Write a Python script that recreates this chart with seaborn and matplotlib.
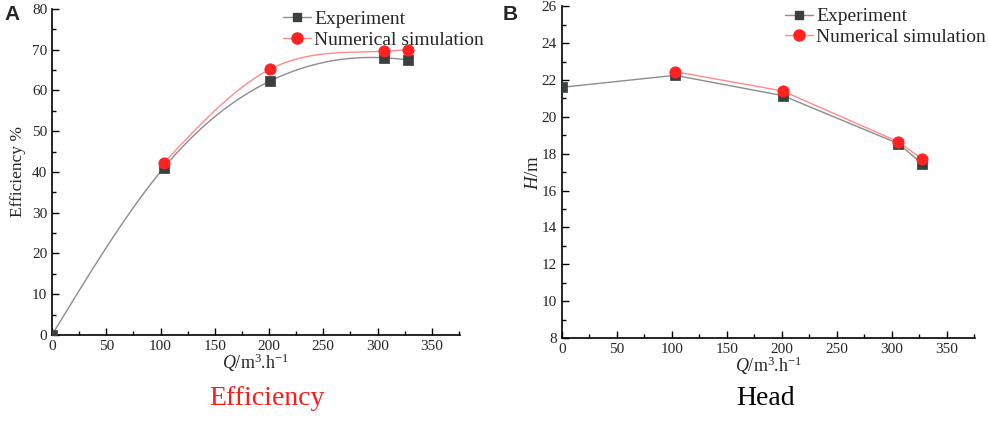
import numpy as np
import pandas as pd
import matplotlib.pyplot as plt
import seaborn as sns
from matplotlib.lines import Line2D
from matplotlib.ticker import MultipleLocator

# Panel A: efficiency
q_exp_a = [0, 103, 201, 306, 328]
eff_exp = [0, 41.0, 62.3, 68.0, 67.5]
q_sim_a = [103, 201, 306, 328]
eff_sim = [42.2, 65.2, 69.6, 70.0]

# Panel B: head
q_exp_b = [0, 103, 201, 306, 328]
head_exp = [21.6, 22.25, 21.15, 18.55, 17.45]
q_sim_b = [103, 201, 306, 328]
head_sim = [22.45, 21.4, 18.65, 17.7]


def natural_spline(x, y, n=200):
    # natural cubic spline, only used to draw the smoothed connecting line
    x = np.asarray(x, float)
    y = np.asarray(y, float)
    k = len(x)
    h = np.diff(x)
    A = np.zeros((k, k))
    b = np.zeros(k)
    A[0, 0] = A[-1, -1] = 1
    for i in range(1, k - 1):
        A[i, i - 1] = h[i - 1]
        A[i, i] = 2 * (h[i - 1] + h[i])
        A[i, i + 1] = h[i]
        b[i] = 6 * ((y[i + 1] - y[i]) / h[i] - (y[i] - y[i - 1]) / h[i - 1])
    m = np.linalg.solve(A, b)
    xs = np.linspace(x[0], x[-1], n)
    j = np.clip(np.searchsorted(x, xs) - 1, 0, k - 2)
    t0 = x[j + 1] - xs
    t1 = xs - x[j]
    ys = (m[j] * t0**3 + m[j + 1] * t1**3) / (6 * h[j]) \
        + (y[j] / h[j] - m[j] * h[j] / 6) * t0 \
        + (y[j + 1] / h[j] - m[j + 1] * h[j] / 6) * t1
    return xs, ys


sns.set_style("ticks")
plt.rcParams['font.family'] = ['Liberation Serif', 'DejaVu Serif']
plt.rcParams['mathtext.fontset'] = 'custom'
plt.rcParams['mathtext.rm'] = 'Liberation Serif'
plt.rcParams['mathtext.it'] = 'Liberation Serif:italic'

exp_line = '#8c8c8c'
exp_mark = '#3a3f3f'
sim_line = '#ff8a8a'
sim_mark = '#ff2222'

fig = plt.figure(figsize=(9.89, 4.43), dpi=100)
ax1 = fig.add_axes([0.0526, 0.244, 0.4125, 0.736])
ax2 = fig.add_axes([0.568, 0.237, 0.418, 0.749])

# --- A
xs, ys = natural_spline(q_exp_a, eff_exp)
sns.lineplot(x=xs, y=ys, ax=ax1, color=exp_line, lw=1, sort=False)
xs, ys = natural_spline(q_sim_a, eff_sim)
sns.lineplot(x=xs, y=ys, ax=ax1, color=sim_line, lw=1, sort=False)
sns.scatterplot(x=q_exp_a, y=eff_exp, ax=ax1, marker='s', s=42, color=exp_mark,
                edgecolor=exp_mark, zorder=3)
sns.scatterplot(x=q_sim_a, y=eff_sim, ax=ax1, marker='o', s=65, color=sim_mark,
                edgecolor=sim_mark, zorder=4)
ax1.set_ylim(0, 80)
ax1.yaxis.set_major_locator(MultipleLocator(10))
ax1.yaxis.set_minor_locator(MultipleLocator(5))
ax1.set_ylabel('Efficiency %', fontsize=12.5, labelpad=4)

# --- B
sns.lineplot(x=q_exp_b, y=head_exp, ax=ax2, color=exp_line, lw=1)
sns.lineplot(x=q_sim_b, y=head_sim, ax=ax2, color=sim_line, lw=1)
sns.scatterplot(x=q_exp_b, y=head_exp, ax=ax2, marker='s', s=42, color=exp_mark,
                edgecolor=exp_mark, zorder=3)
sns.scatterplot(x=q_sim_b, y=head_sim, ax=ax2, marker='o', s=65, color=sim_mark,
                edgecolor=sim_mark, zorder=4)
ax2.set_ylim(8, 26)
ax2.yaxis.set_major_locator(MultipleLocator(2))
ax2.yaxis.set_minor_locator(MultipleLocator(1))
ax2.set_ylabel(r'$\mathit{H}$/m', fontsize=13.5, labelpad=0)

handles = [
    Line2D([], [], color=exp_line, lw=1, marker='s', ms=6,
           markerfacecolor=exp_mark, markeredgecolor=exp_mark),
    Line2D([], [], color=sim_line, lw=1, marker='o', ms=8,
           markerfacecolor=sim_mark, markeredgecolor=sim_mark),
]
labels = ['Experiment', 'Numerical simulation']

for ax, lx in [(ax1, 0.566), (ax2, 0.54)]:
    ax.set_xlim(0, 376)
    ax.xaxis.set_major_locator(MultipleLocator(50))
    ax.xaxis.set_minor_locator(MultipleLocator(25))
    ax.set_xlabel(r'$\mathit{Q}$/m$^3$.h$^{-1}$', fontsize=13, labelpad=-1)
    ax.tick_params(which='both', direction='in', labelsize=11, width=1, color='black')
    ax.tick_params(which='major', length=5)
    ax.tick_params(which='minor', length=3)
    for sp in ['left', 'bottom']:
        ax.spines[sp].set_linewidth(1.2)
        ax.spines[sp].set_color('black')
    sns.despine(ax=ax)
    ax.legend(handles, labels, loc='upper left', bbox_to_anchor=(lx, 0.995),
              frameon=False, fontsize=14, handlelength=1.45, handletextpad=0.15,
              borderpad=0, borderaxespad=0, labelspacing=0.15)

fig.text(0.005, 0.955, 'A', fontsize=15, fontweight='bold', family='Liberation Sans')
fig.text(0.508, 0.955, 'B', fontsize=15, fontweight='bold', family='Liberation Sans')
fig.text(0.27, 0.1, 'Efficiency', color='#ff1a1a', fontsize=20, ha='center', va='center')
fig.text(0.774, 0.1, 'Head', color='black', fontsize=20, ha='center', va='center')

fig.savefig('out.png', dpi=100)
